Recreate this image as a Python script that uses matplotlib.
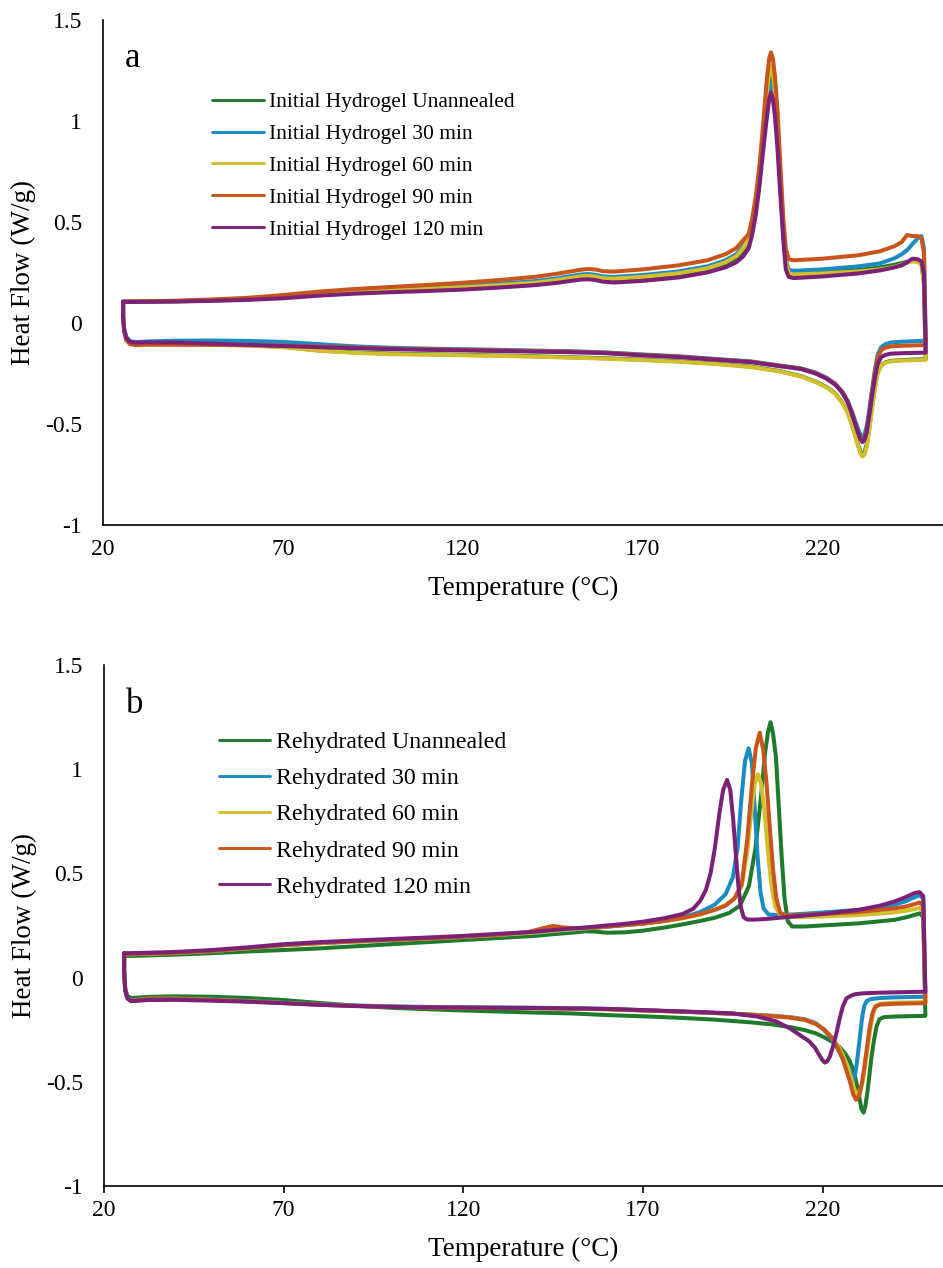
import numpy as np
import matplotlib
matplotlib.use("Agg")
import matplotlib.pyplot as plt

plt.rcParams['font.family'] = ['Liberation Serif', 'DejaVu Serif']

# series colours: unannealed, 30, 60, 90, 120 min
colors = ['#1f7a2c', '#1a8cc3', '#d3bf2b', '#c8561c', '#7b2277']
labels_a = ['Initial Hydrogel Unannealed', 'Initial Hydrogel 30 min', 'Initial Hydrogel 60 min',
            'Initial Hydrogel 90 min', 'Initial Hydrogel 120 min']
labels_b = ['Rehydrated Unannealed', 'Rehydrated 30 min', 'Rehydrated 60 min',
            'Rehydrated 90 min', 'Rehydrated 120 min']

x_ticks = [20, 70, 120, 170, 220]
y_ticks = [-1, -0.5, 0, 0.5, 1, 1.5]
y_tick_labels = ['-1', '-0.5', '0', '0.5', '1', '1.5']

# ---- (a) initial hydrogel: heating then cooling, same temperature grid for all runs
temp_a_heat = [25.6, 27, 30, 40, 50, 60, 70, 80, 90, 100, 110, 120, 130, 140, 146, 150, 153, 155, 157, 159,
               162, 170, 180, 188, 193, 196, 198, 199.5, 200.5, 201.5, 202.5, 203.5, 204.5, 205.2, 205.7,
               206.2, 206.8, 207.5, 208.3, 209.1, 209.8, 210.6, 212, 220, 230, 236, 240, 242, 243.5, 245,
               246.5, 247.5, 248.2, 248.7]
temp_a_cool = [248.5, 246, 242, 239, 237.5, 236.3, 235.3, 234.5, 233.7, 233, 232.3, 231.7, 231.1, 230.5,
               229.8, 229, 228, 227, 225.5, 223.5, 221, 218, 214, 208, 200, 190, 180, 170, 160, 150, 140,
               130, 120, 110, 100, 90, 80, 70, 60, 50, 40, 32, 29, 27.5, 26.5, 25.9, 25.6, 25.6]

hf_a_unann_heat = [0.105, 0.105, 0.105, 0.107, 0.111, 0.117, 0.127, 0.141, 0.151, 0.159, 0.166, 0.174, 0.184,
                   0.197, 0.209, 0.220, 0.228, 0.230, 0.226, 0.218, 0.215, 0.223, 0.240, 0.265, 0.293, 0.320,
                   0.355, 0.400, 0.470, 0.570, 0.720, 0.890, 1.070, 1.180, 1.220, 1.190, 1.100, 0.930, 0.690,
                   0.450, 0.300, 0.250, 0.245, 0.250, 0.262, 0.275, 0.288, 0.296, 0.303, 0.308, 0.305, 0.295,
                   0.200, -0.180]
hf_a_30_heat = [0.105, 0.105, 0.106, 0.108, 0.113, 0.120, 0.132, 0.147, 0.158, 0.166, 0.174, 0.183, 0.194,
                0.207, 0.220, 0.232, 0.240, 0.242, 0.238, 0.230, 0.228, 0.237, 0.255, 0.280, 0.310, 0.340,
                0.380, 0.420, 0.490, 0.590, 0.730, 0.900, 1.060, 1.150, 1.180, 1.150, 1.070, 0.910, 0.680,
                0.450, 0.310, 0.263, 0.258, 0.265, 0.280, 0.295, 0.320, 0.340, 0.360, 0.390, 0.420, 0.430,
                0.370, -0.090]
hf_a_60_heat = [0.105, 0.105, 0.105, 0.107, 0.111, 0.117, 0.128, 0.142, 0.153, 0.161, 0.168, 0.177, 0.187,
                0.199, 0.212, 0.223, 0.231, 0.233, 0.229, 0.221, 0.219, 0.228, 0.246, 0.270, 0.300, 0.330,
                0.370, 0.420, 0.500, 0.610, 0.760, 0.940, 1.130, 1.240, 1.270, 1.240, 1.140, 0.960, 0.710,
                0.460, 0.300, 0.245, 0.240, 0.245, 0.255, 0.265, 0.278, 0.288, 0.298, 0.305, 0.300, 0.290,
                0.200, -0.183]
hf_a_90_heat = [0.105, 0.106, 0.107, 0.110, 0.116, 0.124, 0.138, 0.155, 0.168, 0.178, 0.188, 0.199, 0.212,
                0.228, 0.243, 0.255, 0.264, 0.267, 0.264, 0.256, 0.254, 0.265, 0.285, 0.310, 0.340, 0.370,
                0.410, 0.440, 0.520, 0.630, 0.780, 0.980, 1.200, 1.310, 1.340, 1.310, 1.220, 1.050, 0.780,
                0.520, 0.370, 0.315, 0.310, 0.318, 0.335, 0.355, 0.380, 0.400, 0.435, 0.430, 0.430, 0.420,
                0.350, -0.110]
hf_a_120_heat = [0.105, 0.104, 0.104, 0.106, 0.109, 0.114, 0.122, 0.135, 0.145, 0.152, 0.158, 0.165, 0.175,
                 0.187, 0.198, 0.208, 0.215, 0.216, 0.212, 0.204, 0.200, 0.208, 0.225, 0.250, 0.275, 0.300,
                 0.330, 0.370, 0.440, 0.540, 0.680, 0.850, 1.010, 1.110, 1.140, 1.110, 1.020, 0.860, 0.630,
                 0.410, 0.265, 0.228, 0.222, 0.230, 0.245, 0.260, 0.275, 0.285, 0.300, 0.318, 0.315, 0.305,
                 0.240, -0.147]

hf_a_unann_cool = [-0.180, -0.181, -0.184, -0.188, -0.195, -0.210, -0.248, -0.325, -0.425, -0.522, -0.600,
                   -0.640, -0.652, -0.636, -0.598, -0.550, -0.492, -0.442, -0.393, -0.348, -0.316, -0.290,
                   -0.263, -0.238, -0.216, -0.201, -0.190, -0.182, -0.175, -0.170, -0.165, -0.161, -0.158,
                   -0.155, -0.152, -0.146, -0.136, -0.118, -0.110, -0.105, -0.102, -0.102, -0.104, -0.100,
                   -0.083, -0.040, 0.030, 0.105]
hf_a_30_cool = [-0.088, -0.090, -0.093, -0.097, -0.105, -0.120, -0.160, -0.240, -0.340, -0.430, -0.510,
                -0.550, -0.563, -0.550, -0.520, -0.480, -0.430, -0.385, -0.340, -0.300, -0.270, -0.245,
                -0.225, -0.210, -0.190, -0.178, -0.165, -0.156, -0.146, -0.140, -0.137, -0.133, -0.130,
                -0.127, -0.123, -0.116, -0.105, -0.094, -0.089, -0.087, -0.088, -0.092, -0.095, -0.090,
                -0.070, -0.030, 0.030, 0.105]
hf_a_60_cool = [-0.183, -0.184, -0.186, -0.190, -0.197, -0.212, -0.250, -0.330, -0.430, -0.530, -0.610,
                -0.650, -0.662, -0.645, -0.605, -0.555, -0.495, -0.445, -0.395, -0.350, -0.318, -0.292,
                -0.265, -0.240, -0.218, -0.203, -0.192, -0.184, -0.177, -0.172, -0.167, -0.163, -0.160,
                -0.157, -0.155, -0.148, -0.138, -0.120, -0.112, -0.107, -0.104, -0.104, -0.106, -0.102,
                -0.085, -0.040, 0.030, 0.105]
hf_a_90_cool = [-0.110, -0.111, -0.113, -0.116, -0.122, -0.135, -0.175, -0.255, -0.355, -0.450, -0.530,
                -0.572, -0.585, -0.570, -0.535, -0.490, -0.435, -0.388, -0.342, -0.302, -0.272, -0.247,
                -0.226, -0.212, -0.192, -0.180, -0.167, -0.158, -0.148, -0.142, -0.139, -0.136, -0.133,
                -0.130, -0.127, -0.122, -0.117, -0.112, -0.110, -0.109, -0.108, -0.108, -0.110, -0.105,
                -0.085, -0.040, 0.030, 0.105]
hf_a_120_cool = [-0.147, -0.148, -0.150, -0.152, -0.158, -0.170, -0.205, -0.280, -0.370, -0.460, -0.540,
                 -0.578, -0.590, -0.575, -0.540, -0.495, -0.440, -0.392, -0.345, -0.305, -0.275, -0.250,
                 -0.228, -0.214, -0.194, -0.182, -0.169, -0.161, -0.150, -0.145, -0.142, -0.139, -0.136,
                 -0.133, -0.130, -0.125, -0.120, -0.114, -0.108, -0.102, -0.097, -0.096, -0.098, -0.093,
                 -0.075, -0.035, 0.030, 0.105]

# ---- (b) rehydrated: peaks shift with annealing time, so each run keeps its own temperatures
temp_b_unann_heat = [25.6, 27, 30, 40, 50, 60, 70, 80, 90, 100, 110, 120, 130, 140, 145, 150, 154, 157, 160,
                     165, 170, 176, 181, 186, 190, 194, 197, 199.5, 201.3, 202.8, 204, 204.8, 205.5, 206.2,
                     207, 207.8, 208.6, 209.4, 210.3, 211.5, 215, 220, 230, 236, 240, 243, 245.5, 247, 248,
                     248.6]
hf_b_unann_heat = [0.104, 0.104, 0.105, 0.110, 0.117, 0.125, 0.132, 0.140, 0.150, 0.160, 0.170, 0.180,
                   0.190, 0.200, 0.208, 0.215, 0.222, 0.220, 0.215, 0.217, 0.225, 0.240, 0.255, 0.272, 0.287,
                   0.310, 0.345, 0.440, 0.620, 0.860, 1.080, 1.180, 1.225, 1.170, 1.060, 0.820, 0.580, 0.380,
                   0.270, 0.245, 0.245, 0.250, 0.260, 0.270, 0.277, 0.288, 0.300, 0.308, 0.290, -0.184]
temp_b_30_heat = [25.6, 27, 30, 40, 50, 60, 70, 80, 90, 100, 110, 120, 130, 140, 145, 150, 155, 160, 165,
                  170, 176, 181, 186, 190, 193, 195, 196.3, 197.4, 198.4, 199.4, 200.3, 201.1, 201.9, 202.7,
                  203.6, 205, 208, 212, 220, 230, 236, 240, 243, 245.5, 247, 248, 248.6]
hf_b_30_heat = [0.112, 0.112, 0.113, 0.118, 0.127, 0.140, 0.155, 0.165, 0.173, 0.180, 0.187, 0.195, 0.205,
                0.215, 0.222, 0.229, 0.236, 0.244, 0.251, 0.259, 0.272, 0.288, 0.315, 0.350, 0.400, 0.480,
                0.620, 0.860, 1.040, 1.100, 1.030, 0.810, 0.580, 0.410, 0.330, 0.302, 0.300, 0.303, 0.312,
                0.325, 0.338, 0.350, 0.365, 0.385, 0.395, 0.380, -0.092]
temp_b_60_heat = [25.6, 27, 30, 40, 50, 60, 70, 80, 90, 100, 110, 120, 130, 140, 145, 150, 155, 160, 165,
                  170, 176, 181, 186, 190, 193, 195.5, 197.5, 199, 200.2, 201.1, 202, 202.9, 203.8, 204.7,
                  205.7, 206.8, 208.2, 210, 214, 220, 230, 236, 240, 243, 245.5, 247, 248, 248.6]
hf_b_60_heat = [0.112, 0.112, 0.113, 0.118, 0.127, 0.140, 0.155, 0.165, 0.173, 0.180, 0.187, 0.195, 0.205,
                0.216, 0.224, 0.231, 0.238, 0.245, 0.252, 0.259, 0.271, 0.284, 0.302, 0.325, 0.348, 0.380,
                0.440, 0.600, 0.800, 0.930, 0.976, 0.930, 0.800, 0.620, 0.450, 0.340, 0.300, 0.290, 0.290,
                0.293, 0.300, 0.307, 0.313, 0.320, 0.328, 0.334, 0.320, -0.118]
temp_b_90_heat = [25.6, 27, 30, 40, 50, 60, 70, 80, 90, 100, 110, 120, 130, 138, 142, 145, 148, 152, 156,
                  160, 165, 170, 176, 181, 186, 190, 193, 195.5, 197.5, 199, 200.3, 201.4, 202.5, 203.5,
                  204.4, 205.3, 206.2, 207.1, 208.2, 210, 214, 220, 230, 236, 240, 243, 245.5, 247, 248,
                  248.6]
hf_b_90_heat = [0.113, 0.113, 0.114, 0.119, 0.128, 0.141, 0.156, 0.166, 0.174, 0.181, 0.188, 0.196, 0.206,
                0.218, 0.236, 0.248, 0.240, 0.236, 0.240, 0.245, 0.252, 0.259, 0.272, 0.286, 0.305, 0.325,
                0.345, 0.380, 0.450, 0.660, 0.920, 1.100, 1.175, 1.090, 0.930, 0.720, 0.520, 0.380, 0.310,
                0.298, 0.300, 0.305, 0.315, 0.325, 0.332, 0.340, 0.352, 0.360, 0.345, -0.123]
temp_b_120_heat = [25.6, 27, 30, 40, 50, 60, 70, 80, 90, 100, 110, 120, 130, 140, 145, 150, 155, 160, 165,
                   170, 176, 181, 184, 186, 187.5, 188.8, 190, 191.2, 192.3, 193.4, 194.3, 195.1, 195.8,
                   196.5, 197.2, 198, 199, 201, 205, 210, 220, 230, 236, 240, 243, 245.5, 247, 248, 248.6]
hf_b_120_heat = [0.117, 0.117, 0.118, 0.123, 0.132, 0.145, 0.160, 0.170, 0.178, 0.185, 0.192, 0.200, 0.210,
                 0.220, 0.228, 0.235, 0.242, 0.250, 0.258, 0.268, 0.285, 0.305, 0.330, 0.370, 0.420, 0.500,
                 0.620, 0.780, 0.900, 0.948, 0.900, 0.760, 0.600, 0.450, 0.340, 0.290, 0.278, 0.278, 0.282,
                 0.290, 0.305, 0.325, 0.345, 0.365, 0.385, 0.405, 0.410, 0.390, -0.068]

temp_b_unann_cool = [248.5, 245, 240, 237, 235.8, 235, 234.3, 233.6, 233, 232.5, 231.9, 231.4, 230.8, 230.2,
                     229.4, 228.6, 227.5, 226.3, 224.5, 222.6, 220, 218, 215, 211, 206, 200, 190, 180, 170,
                     160, 150, 140, 130, 120, 110, 100, 90, 80, 70, 60, 50, 40, 32, 29, 27.5, 26.5, 25.9,
                     25.6, 25.6]
hf_b_unann_cool = [-0.184, -0.185, -0.187, -0.190, -0.200, -0.235, -0.300, -0.380, -0.470, -0.545, -0.615,
                   -0.648, -0.630, -0.575, -0.505, -0.445, -0.400, -0.365, -0.330, -0.307, -0.283, -0.267,
                   -0.252, -0.238, -0.225, -0.215, -0.202, -0.193, -0.186, -0.180, -0.172, -0.168, -0.163,
                   -0.158, -0.152, -0.145, -0.135, -0.122, -0.108, -0.098, -0.092, -0.090, -0.093, -0.097,
                   -0.098, -0.088, -0.055, 0.030, 0.104]
temp_b_30_cool = [248.5, 245, 240, 236, 233.5, 232.3, 231.6, 231, 230.4, 229.8, 229.2, 228.6, 228, 227.2,
                  226.2, 225, 223.5, 222, 220, 218, 215, 211, 206, 200, 190, 180, 170, 160, 150, 140, 130,
                  120, 110, 100, 90, 80, 70, 60, 50, 40, 32, 29, 27.5, 26.5, 25.9, 25.6, 25.6]
hf_b_30_cool = [-0.092, -0.093, -0.095, -0.098, -0.103, -0.112, -0.135, -0.190, -0.280, -0.370, -0.450,
                -0.490, -0.470, -0.440, -0.410, -0.370, -0.320, -0.283, -0.245, -0.218, -0.200, -0.190,
                -0.183, -0.178, -0.170, -0.163, -0.157, -0.150, -0.147, -0.145, -0.144, -0.143, -0.141,
                -0.138, -0.134, -0.128, -0.120, -0.112, -0.105, -0.100, -0.100, -0.106, -0.110, -0.098,
                -0.060, 0.030, 0.112]
temp_b_60_cool = [248.5, 245, 240, 236, 234.9, 234.1, 233.3, 232.6, 231.9, 231.2, 230.4, 229.6, 228.8,
                  227.9, 226.8, 225.6, 224.2, 222.7, 220.5, 218, 215, 211, 206, 200, 190, 180, 170, 160,
                  150, 140, 130, 120, 110, 100, 90, 80, 70, 60, 50, 40, 32, 29, 27.5, 26.5, 25.9, 25.6, 25.6]
hf_b_60_cool = [-0.118, -0.119, -0.121, -0.125, -0.135, -0.170, -0.245, -0.330, -0.420, -0.495, -0.545,
                -0.563, -0.535, -0.480, -0.425, -0.370, -0.325, -0.288, -0.250, -0.222, -0.203, -0.192,
                -0.185, -0.178, -0.170, -0.163, -0.158, -0.152, -0.149, -0.147, -0.146, -0.145, -0.143,
                -0.140, -0.136, -0.130, -0.122, -0.114, -0.107, -0.102, -0.102, -0.108, -0.112, -0.100,
                -0.060, 0.030, 0.112]
temp_b_90_cool = [248.5, 245, 240, 236, 234.6, 233.8, 233, 232.3, 231.6, 230.9, 230.2, 229.3, 228.5, 227.7,
                  226.6, 225.4, 224, 222.6, 220.5, 218, 215, 211, 206, 200, 190, 180, 170, 160, 150, 140,
                  130, 120, 110, 100, 90, 80, 70, 60, 50, 40, 32, 29, 27.5, 26.5, 25.9, 25.6, 25.6]
hf_b_90_cool = [-0.123, -0.124, -0.126, -0.130, -0.140, -0.175, -0.250, -0.340, -0.430, -0.510, -0.565,
                -0.587, -0.560, -0.505, -0.445, -0.380, -0.330, -0.290, -0.250, -0.222, -0.203, -0.192,
                -0.185, -0.178, -0.170, -0.163, -0.158, -0.152, -0.149, -0.147, -0.146, -0.145, -0.143,
                -0.140, -0.136, -0.130, -0.122, -0.114, -0.107, -0.102, -0.102, -0.108, -0.112, -0.100,
                -0.060, 0.030, 0.113]
temp_b_120_cool = [248.5, 245, 240, 235, 231, 229, 227.8, 226.6, 225.6, 224.7, 223.8, 222.9, 222, 221.2,
                   220.6, 219.9, 219, 217.8, 216.2, 214, 211, 207, 202, 195, 185, 175, 165, 158, 150, 140,
                   130, 120, 110, 100, 90, 80, 70, 60, 50, 40, 32, 29, 27.5, 26.5, 25.9, 25.6, 25.6]
hf_b_120_cool = [-0.068, -0.069, -0.071, -0.073, -0.076, -0.080, -0.088, -0.100, -0.140, -0.200, -0.270,
                 -0.330, -0.380, -0.403, -0.408, -0.395, -0.370, -0.335, -0.305, -0.280, -0.245, -0.210,
                 -0.188, -0.172, -0.165, -0.159, -0.153, -0.150, -0.148, -0.146, -0.145, -0.144, -0.143,
                 -0.141, -0.137, -0.131, -0.123, -0.116, -0.111, -0.107, -0.108, -0.112, -0.113, -0.100,
                 -0.060, 0.030, 0.117]


def draw_panel(ax, runs, labels, letter, legend_anchor, legend_size, handle_len, label_spacing, x_ticks_len):
    for (t_heat, hf_heat, t_cool, hf_cool), color, label in zip(runs, colors, labels):
        t = np.concatenate([t_heat, t_cool])
        hf = np.concatenate([hf_heat, hf_cool])
        ax.plot(t, hf, color=color, lw=2.9, label=label,
                solid_joinstyle='round', solid_capstyle='round')

    ax.set_xlim(20, 253.5)
    ax.set_ylim(-1, 1.5)
    ax.set_xticks(x_ticks)
    ax.set_xticklabels([str(v) for v in x_ticks])
    ax.set_yticks(y_ticks)
    ax.set_yticklabels(y_tick_labels)

    for side in ['top', 'right']:
        ax.spines[side].set_visible(False)
    for side in ['left', 'bottom']:
        ax.spines[side].set_linewidth(1.2)
    ax.tick_params(axis='y', length=0, pad=15, labelsize=17)
    ax.tick_params(axis='x', length=x_ticks_len, width=1.2, direction='out',
                   pad=10 - x_ticks_len, labelsize=17)

    ax.set_xlabel('Temperature (°C)', fontsize=19.5)
    ax.set_ylabel('Heat Flow (W/g)', fontsize=19.5)
    ax.yaxis.set_label_coords(-0.08, 0.5)

    ax.text(0.026, 0.907, letter, transform=ax.transAxes, fontsize=25, va='baseline')

    leg = ax.legend(loc='upper left', bbox_to_anchor=legend_anchor, frameon=False,
                    fontsize=legend_size, handlelength=handle_len, handletextpad=0.25,
                    labelspacing=label_spacing, borderpad=0, borderaxespad=0)
    for line in leg.get_lines():
        line.set_linewidth(2.1)


runs_a = [
    (temp_a_heat, hf_a_unann_heat, temp_a_cool, hf_a_unann_cool),
    (temp_a_heat, hf_a_30_heat, temp_a_cool, hf_a_30_cool),
    (temp_a_heat, hf_a_60_heat, temp_a_cool, hf_a_60_cool),
    (temp_a_heat, hf_a_90_heat, temp_a_cool, hf_a_90_cool),
    (temp_a_heat, hf_a_120_heat, temp_a_cool, hf_a_120_cool),
]
runs_b = [
    (temp_b_unann_heat, hf_b_unann_heat, temp_b_unann_cool, hf_b_unann_cool),
    (temp_b_30_heat, hf_b_30_heat, temp_b_30_cool, hf_b_30_cool),
    (temp_b_60_heat, hf_b_60_heat, temp_b_60_cool, hf_b_60_cool),
    (temp_b_90_heat, hf_b_90_heat, temp_b_90_cool, hf_b_90_cool),
    (temp_b_120_heat, hf_b_120_heat, temp_b_120_cool, hf_b_120_cool),
]

fig = plt.figure(figsize=(9.43, 12.68), dpi=100)
ax_a = fig.add_axes([0.1092, 0.5860, 0.8908, 0.3983])
ax_b = fig.add_axes([0.1103, 0.0647, 0.8897, 0.4109])

draw_panel(ax_a, runs_a, labels_a, 'a', (0.13, 0.857), 15.5, 2.4, 0.55, 0)
draw_panel(ax_b, runs_b, labels_b, 'b', (0.137, 0.872), 17.2, 2.15, 0.6, 5)
ax_a.xaxis.set_label_coords(0.5, -0.101)
ax_b.xaxis.set_label_coords(0.5, -0.098)

fig.savefig('out.png', dpi=100)
